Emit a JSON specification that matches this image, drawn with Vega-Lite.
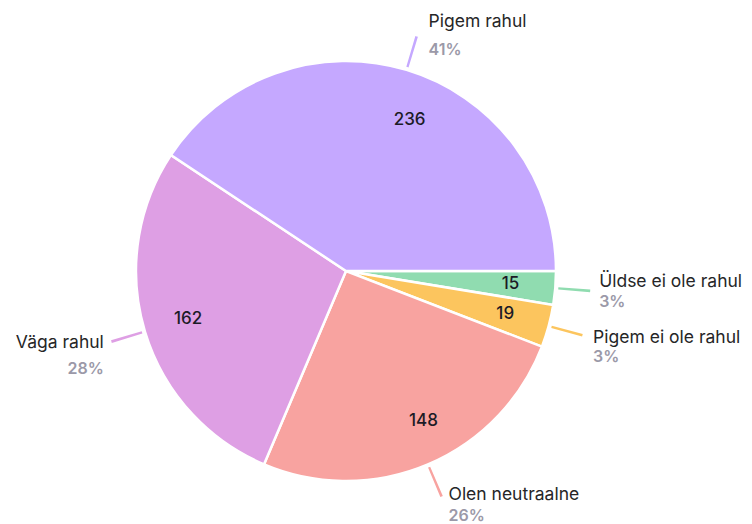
{
  "$schema": "https://vega.github.io/schema/vega-lite/v6.json",
  "width": 692,
  "height": 506,
  "autosize": {"type": "none"},
  "padding": {"left": 0, "top": 18, "right": 60, "bottom": 0},
  "background": "white",
  "config": {"view": {"stroke": null}, "font": "Inter"},
  "data": {
    "values": [
      {"k": 1, "name": "Üldse ei ole rahul", "count": 15},
      {"k": 2, "name": "Pigem ei ole rahul", "count": 19},
      {"k": 3, "name": "Olen neutraalne", "count": 148},
      {"k": 4, "name": "Väga rahul", "count": 162},
      {"k": 5, "name": "Pigem rahul", "count": 236}
    ]
  },
  "transform": [
    {"joinaggregate": [{"op": "sum", "field": "count", "as": "total"}]},
    {"window": [{"op": "sum", "field": "count", "as": "cum"}], "sort": [{"field": "k"}], "frame": [null, 0]},
    {"calculate": "datum.count / datum.total", "as": "pct"},
    {"calculate": "datum.cum - datum.count / 2", "as": "mid"},
    {"calculate": "datum.mid - 0.5", "as": "lo"},
    {"calculate": "datum.mid + 0.5", "as": "hi"}
  ],
  "encoding": {
    "color": {
      "field": "name",
      "type": "nominal",
      "legend": null,
      "scale": {
        "domain": ["Üldse ei ole rahul", "Pigem ei ole rahul", "Olen neutraalne", "Väga rahul", "Pigem rahul"],
        "range": ["#90dcb0", "#fcc55e", "#f8a3a0", "#de9fe4", "#c5a8ff"]
      }
    }
  },
  "layer": [
    {
      "mark": {"type": "arc", "outerRadius": 210, "stroke": "white", "strokeWidth": 2.5},
      "encoding": {
        "theta": {"field": "count", "type": "quantitative", "stack": true, "scale": {"range": [1.5708, 7.854]}},
        "order": {"field": "k", "type": "quantitative"}
      }
    },
    {
      "mark": {"type": "arc", "innerRadius": 213, "outerRadius": 245},
      "encoding": {
        "theta": {"field": "lo", "type": "quantitative", "stack": null, "scale": {"range": [1.5708, 7.854]}},
        "theta2": {"field": "hi"}
      }
    },
    {
      "mark": {
        "type": "text", "radius": 165, "fontSize": 17, "fontWeight": 500, "baseline": "middle",
        "dx": {"expr": "datum.name === 'Pigem rahul' ? 16 : datum.name === 'Olen neutraalne' ? 13 : 0"},
        "dy": {"expr": "datum.name === 'Pigem rahul' ? 7 : datum.name === 'Olen neutraalne' ? -2 : 0"}
      },
      "encoding": {
        "theta": {"field": "mid", "type": "quantitative", "stack": null, "scale": {"range": [1.5708, 7.854]}},
        "text": {"field": "count", "type": "quantitative"},
        "color": {"value": "#1c1b26"}
      }
    },
    {
      "mark": {
        "type": "text", "radius": 255, "fontSize": 17.5, "fontWeight": 400,
        "baseline": "middle",
        "align": {"expr": "datum.name === 'Väga rahul' ? 'right' : 'left'"},
        "dx": {"expr": "datum.name === 'Pigem rahul' ? 9 : datum.name === 'Väga rahul' ? 2 : datum.name === 'Olen neutraalne' ? 3 : datum.name === 'Üldse ei ole rahul' ? -1 : 1"},
        "dy": {"expr": "datum.name === 'Pigem rahul' ? -5 : datum.name === 'Väga rahul' ? -2 : datum.name === 'Olen neutraalne' ? -11 : datum.name === 'Üldse ei ole rahul' ? -10 : 0"}
      },
      "encoding": {
        "theta": {"field": "mid", "type": "quantitative", "stack": null, "scale": {"range": [1.5708, 7.854]}},
        "text": {"field": "name", "type": "nominal"},
        "color": {"value": "#262627"}
      }
    },
    {
      "mark": {
        "type": "text", "radius": 255, "fontSize": 16, "fontWeight": 600,
        "baseline": "middle",
        "align": {"expr": "datum.name === 'Väga rahul' ? 'right' : 'left'"},
        "dx": {"expr": "datum.name === 'Pigem rahul' ? 9 : datum.name === 'Väga rahul' ? 2 : datum.name === 'Olen neutraalne' ? 3 : datum.name === 'Üldse ei ole rahul' ? -1 : 1"},
        "dy": {"expr": "datum.name === 'Pigem rahul' ? 23 : datum.name === 'Väga rahul' ? 24 : datum.name === 'Olen neutraalne' ? 10 : datum.name === 'Üldse ei ole rahul' ? 10 : 19"}
      },
      "encoding": {
        "theta": {"field": "mid", "type": "quantitative", "stack": null, "scale": {"range": [1.5708, 7.854]}},
        "text": {"field": "pct", "type": "quantitative", "format": ".0%"},
        "color": {"value": "#9b99a8"}
      }
    }
  ]
}
